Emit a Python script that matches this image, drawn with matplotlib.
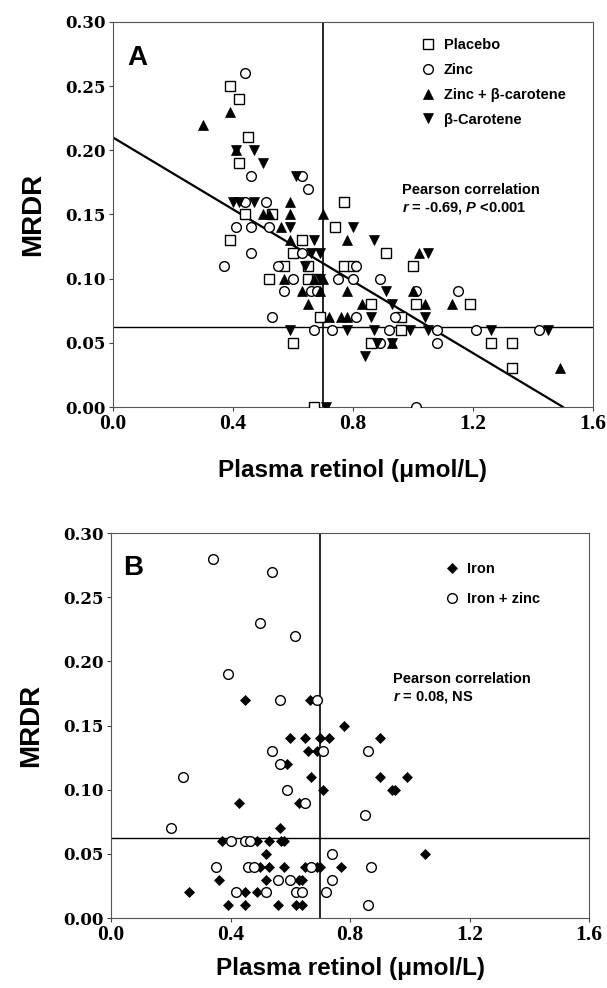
import matplotlib
matplotlib.use("Agg")
import matplotlib.pyplot as plt

plt.rcParams['font.family'] = ['Liberation Sans', 'DejaVu Sans']
plt.rcParams['mathtext.fontset'] = 'custom'
plt.rcParams['mathtext.bfit'] = 'Liberation Sans:italic:bold'
plt.rcParams['mathtext.rm'] = 'Liberation Sans:bold'

# ---------------- Panel A data ----------------
placebo_x = [0.39,0.42,0.45,0.42,0.77,0.44,0.53,0.74,0.39,0.63,0.60,0.91,0.57,0.65,0.77,0.80,1.00,0.52,0.65,0.68,0.86,1.01,1.19,0.69,0.96,0.96,0.60,0.86,1.26,1.33,1.33,0.67]
placebo_y = [0.25,0.24,0.21,0.19,0.16,0.15,0.15,0.14,0.13,0.13,0.12,0.12,0.11,0.11,0.11,0.11,0.11,0.10,0.10,0.10,0.08,0.08,0.08,0.07,0.07,0.06,0.05,0.05,0.05,0.05,0.03,0.00]

zinc_x = [0.44,0.46,0.63,0.65,0.44,0.51,0.41,0.46,0.52,0.46,0.63,0.37,0.55,0.81,0.60,0.75,0.80,0.89,0.57,0.66,0.68,1.01,1.15,0.53,0.81,0.94,0.67,0.73,0.92,1.08,1.21,1.42,0.89,1.08,1.01]
zinc_y = [0.26,0.18,0.18,0.17,0.16,0.16,0.14,0.14,0.14,0.12,0.12,0.11,0.11,0.11,0.10,0.10,0.10,0.10,0.09,0.09,0.09,0.09,0.09,0.07,0.07,0.07,0.06,0.06,0.06,0.06,0.06,0.06,0.05,0.05,0.00]

zincbc_x = [0.39,0.30,0.41,0.59,0.50,0.52,0.59,0.70,0.56,0.59,0.78,1.02,0.57,0.67,0.70,0.63,0.69,0.78,1.00,0.65,0.83,1.04,1.13,0.72,0.76,0.78,0.93,1.49]
zincbc_y = [0.23,0.22,0.20,0.16,0.15,0.15,0.15,0.15,0.14,0.13,0.13,0.12,0.10,0.10,0.10,0.09,0.09,0.09,0.09,0.08,0.08,0.08,0.08,0.07,0.07,0.07,0.05,0.03]

bcar_x = [0.41,0.47,0.50,0.61,0.40,0.42,0.47,0.59,0.80,0.67,0.87,0.66,0.69,1.05,0.64,0.69,0.91,0.93,0.86,1.04,0.59,0.78,0.87,0.99,1.05,1.26,1.45,0.88,0.93,0.84,0.71]
bcar_y = [0.20,0.20,0.19,0.18,0.16,0.16,0.16,0.14,0.14,0.13,0.13,0.12,0.12,0.12,0.11,0.10,0.09,0.08,0.07,0.07,0.06,0.06,0.06,0.06,0.06,0.06,0.06,0.05,0.05,0.04,0.00]

fit_intercept = 0.21
fit_slope = -0.14
fit_x = [0.0, 1.5]

# ---------------- Panel B data ----------------
iron_x = [0.45,0.665,0.78,0.60,0.65,0.70,0.73,0.90,0.66,0.69,0.59,0.67,0.90,0.99,0.71,0.94,0.95,0.43,0.63,0.565,0.37,0.49,0.53,0.57,0.58,0.52,1.05,0.50,0.53,0.58,0.65,0.69,0.70,0.77,0.36,0.52,0.63,0.64,0.26,0.45,0.49,0.39,0.45,0.56,0.62,0.64]
iron_y = [0.17,0.17,0.15,0.14,0.14,0.14,0.14,0.14,0.13,0.13,0.12,0.11,0.11,0.11,0.10,0.10,0.10,0.09,0.09,0.07,0.06,0.06,0.06,0.06,0.06,0.05,0.05,0.04,0.04,0.04,0.04,0.04,0.04,0.04,0.03,0.03,0.03,0.03,0.02,0.02,0.02,0.01,0.01,0.01,0.01,0.01]

ironzinc_x = [0.34,0.54,0.50,0.615,0.39,0.565,0.69,0.54,0.71,0.86,0.565,0.24,0.59,0.65,0.85,0.20,0.40,0.45,0.465,0.74,0.35,0.46,0.48,0.67,0.87,0.56,0.60,0.74,0.42,0.52,0.62,0.64,0.72,0.86]
ironzinc_y = [0.28,0.27,0.23,0.22,0.19,0.17,0.17,0.13,0.13,0.13,0.12,0.11,0.10,0.09,0.08,0.07,0.06,0.06,0.06,0.05,0.04,0.04,0.04,0.04,0.04,0.03,0.03,0.03,0.02,0.02,0.02,0.02,0.02,0.01]

# reference lines
ref_x = 0.70
ref_y = 0.062

x_ticks = [0.0, 0.4, 0.8, 1.2, 1.6]
x_ticklabels = ['0.0', '0.4', '0.8', '1.2', '1.6']
y_ticks = [0.00, 0.05, 0.10, 0.15, 0.20, 0.25, 0.30]
y_ticklabels = ['0.00', '0.05', '0.10', '0.15', '0.20', '0.25', '0.30']

xlabel = 'Plasma retinol (μmol/L)'
ylabel = 'MRDR'

W, H = 607, 988
fig = plt.figure(figsize=(W/100, H/100), dpi=100)

def px_axes(l, t, r, b):
    return fig.add_axes([l/W, 1 - b/H, (r-l)/W, (b-t)/H])

axA = px_axes(113, 22, 593, 407)
axB = px_axes(111, 533, 589, 918)

def style(ax, xpad):
    ax.set_xlim(0, 1.6)
    ax.set_ylim(0, 0.30)
    ax.set_xticks(x_ticks)
    ax.set_xticklabels(x_ticklabels, fontsize=15.5, family='Liberation Serif', weight='bold')
    ax.set_yticks(y_ticks)
    ax.set_yticklabels(y_ticklabels, fontsize=12, family='DejaVu Serif', weight='bold')
    ax.tick_params(direction='out', length=3, width=0.8, color='#444444')
    ax.tick_params(axis='x', pad=2)
    ax.tick_params(axis='y', pad=2)
    for s in ax.spines.values():
        s.set_color('#555555')
        s.set_linewidth(0.8)
    ax.set_xlabel(xlabel, fontsize=17.5, fontweight='bold', labelpad=xpad)
    ax.set_ylabel(ylabel, fontsize=20, fontweight='bold', labelpad=14)
    ax.axvline(ref_x, color='black', lw=1.2, zorder=1)
    ax.axhline(ref_y, color='black', lw=1.0, zorder=1)

style(axA, 18)
style(axB, 9)

ms = 6.5
mew = 1.0
axA.plot(placebo_x, placebo_y, 's', ms=ms, mfc='white', mec='black', mew=mew, label='Placebo', zorder=3)
axA.plot(zinc_x, zinc_y, 'o', ms=ms+0.5, mfc='white', mec='black', mew=mew, label='Zinc', zorder=3)
axA.plot(zincbc_x, zincbc_y, '^', ms=ms+0.5, mfc='black', mec='black', mew=0.5, label='Zinc + β-carotene', zorder=3)
axA.plot(bcar_x, bcar_y, 'v', ms=ms+0.5, mfc='black', mec='black', mew=0.5, label='β-Carotene', zorder=3)
fit_y = [fit_intercept + fit_slope * x for x in fit_x]
axA.plot(fit_x, fit_y, color='black', lw=1.6, zorder=2)

axA.text(0.05, 0.906, 'A', transform=axA.transAxes, fontsize=20, fontweight='bold', ha='center', va='center')
axA.legend(loc='upper left', bbox_to_anchor=(0.641, 0.958), frameon=False,
           prop=dict(size=10.5, weight='bold'), handlelength=1.0, handletextpad=0.6,
           labelspacing=0.74, borderpad=0, borderaxespad=0, markerscale=1.0)
axA.text(0.602, 0.564, 'Pearson correlation', transform=axA.transAxes, fontsize=10.5, fontweight='bold', va='center')
axA.text(0.602, 0.517, r'$\mathbfit{r}$ = -0.69, $\mathbfit{P}$ <0.001', transform=axA.transAxes, fontsize=10.5, fontweight='bold', va='center')

axB.plot(iron_x, iron_y, 'D', ms=5.0, mfc='black', mec='black', mew=0.5, label='Iron', zorder=3)
axB.plot(ironzinc_x, ironzinc_y, 'o', ms=7.0, mfc='white', mec='black', mew=mew, label='Iron + zinc', zorder=3)
axB.text(0.046, 0.909, 'B', transform=axB.transAxes, fontsize=20, fontweight='bold', ha='center', va='center')
axB.legend(loc='upper left', bbox_to_anchor=(0.698, 0.924), frameon=False,
           prop=dict(size=10.5, weight='bold'), handlelength=1.0, handletextpad=0.5,
           labelspacing=1.1, borderpad=0, borderaxespad=0)
axB.text(0.590, 0.622, 'Pearson correlation', transform=axB.transAxes, fontsize=10.5, fontweight='bold', va='center')
axB.text(0.590, 0.575, r'$\mathbfit{r}$ = 0.08, NS', transform=axB.transAxes, fontsize=10.5, fontweight='bold', va='center')

fig.savefig('out.png', dpi=100)
